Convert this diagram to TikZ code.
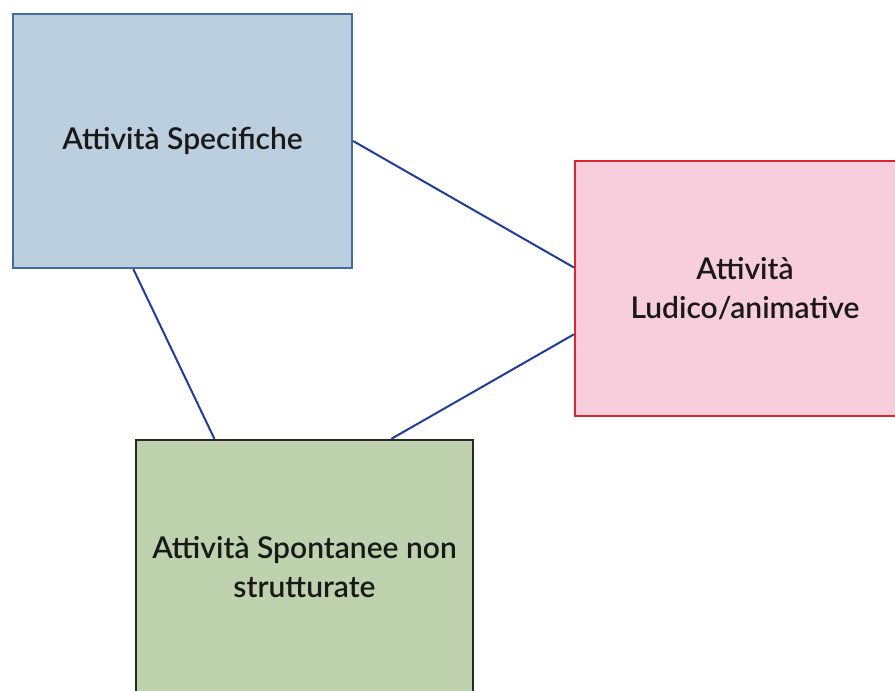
\documentclass[tikz,border=0pt]{standalone}
\usepackage{xcolor}
\usepackage{fontspec}
\setmainfont{Lato}[UprightFont={Lato Semibold}]
\usepackage{tikz}
\definecolor{specfill}{RGB}{188, 207, 223}
\definecolor{specline}{RGB}{65, 108, 158}
\definecolor{ludifill}{RGB}{248, 206, 220}
\definecolor{ludiline}{RGB}{217, 38, 47}
\definecolor{spontfill}{RGB}{189, 210, 173}
\definecolor{spontline}{RGB}{40, 40, 40}
\definecolor{linkblue}{RGB}{31, 61, 153}

\begin{document}
\begin{tikzpicture}[x=1pt, y=-1pt,
    box/.style={rectangle, line width=2.2pt, align=center, inner sep=0pt,
        font=\fontsize{30}{39}\selectfont, text=black!90},
    link/.style={linkblue, line width=2pt}]
    \useasboundingbox (0,0) rectangle (895,691);
    \clip (0,0) rectangle (895,691);

    % Boxes
    \node[box, draw=specline, fill=specfill, minimum width=339pt, minimum height=254pt]
        (spec) at (182.5,141) {Attività Specifiche};
    \node[box, draw=ludiline, fill=ludifill, minimum width=340pt, minimum height=255pt]
        (ludi) at (745,288.5) {Attività\\Ludico/animative};
    \node[box, draw=spontline, fill=spontfill, minimum width=337pt, minimum height=255pt]
        (spont) at (304.5,567.5) {Attività Spontanee non\\strutturate};

    % Links
    \draw[link] (spec.east) -- (ludi.173);
    \draw[link] (ludi.195.3) -- (spont.56.8);
    \draw[link] (spec.249.5) -- (spont.125.7);
\end{tikzpicture}
\end{document}
